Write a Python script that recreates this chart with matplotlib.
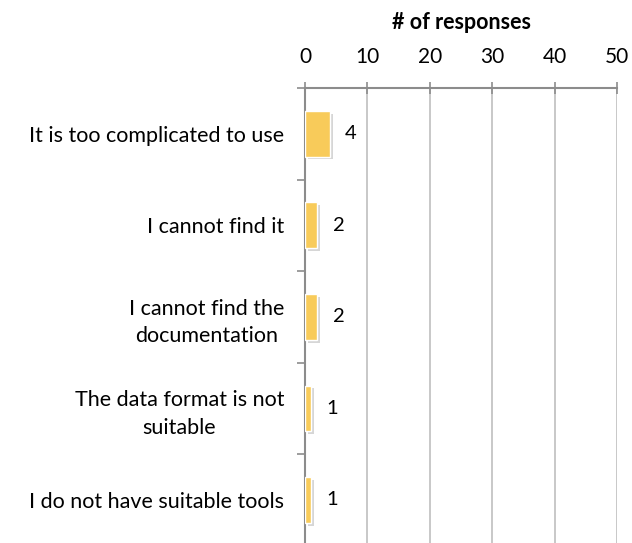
import matplotlib
matplotlib.use("Agg")
import matplotlib.pyplot as plt
import matplotlib.patheffects as pe

plt.rcParams["font.family"] = ["Lato", "DejaVu Sans"]

categories = [
    "It is too complicated to use",
    "I cannot find it",
    "I cannot find the\ndocumentation",
    "The data format is not\nsuitable",
    "I do not have suitable tools",
]
responses = [4, 2, 2, 1, 1]
x_ticks = [0, 10, 20, 30, 40, 50]

BAR_COLOR = "#F8CB5A"
GRID_COLOR = "#BFBFBF"
AXIS_COLOR = "#8C8C8C"

fig = plt.figure(figsize=(6.32, 5.43), dpi=100, facecolor="white")
ax = fig.add_axes([0.4826, -0.005, 0.4937, 0.843])

ypos = list(range(len(categories)))
bars = ax.barh(ypos, responses, height=0.5, color=BAR_COLOR,
               edgecolor="white", linewidth=1.0, zorder=3)
for b in bars:
    b.set_path_effects([pe.SimplePatchShadow(offset=(2, -2), shadow_rgbFace="#999999",
                                             alpha=0.4), pe.Normal()])

for y, v in zip(ypos, responses):
    ax.annotate(str(v), (v, y), xytext=(11, 0), textcoords="offset points",
                ha="left", va="center", fontsize=14.5, color="black")

ax.set_xlim(0, 50)
ax.set_ylim(len(categories) - 0.5, -0.5)
ax.set_xticks(x_ticks)
ax.xaxis.tick_top()
ax.xaxis.set_label_position("top")
ax.set_xlabel("# of responses", fontsize=15.5, fontweight="bold", labelpad=13)
ax.tick_params(axis="x", direction="inout", length=8, width=1.2, color=AXIS_COLOR,
               labelsize=15, pad=11)

ax.set_yticks([y - 0.5 for y in ypos] + [len(categories) - 0.5])
ax.set_yticklabels([])
ax.set_yticks(ypos, minor=True)
ax.set_yticklabels(categories, minor=True, fontsize=15.5, ha="right",
                   multialignment="center", linespacing=1.45)
ax.tick_params(axis="y", which="major", direction="out", length=6, width=1.2,
               color=AXIS_COLOR)
ax.tick_params(axis="y", which="minor", length=0, pad=15)

ax.grid(axis="x", color=GRID_COLOR, linewidth=1.2, zorder=0)
ax.set_axisbelow(True)
for side in ["right", "bottom"]:
    ax.spines[side].set_visible(False)
for side in ["left", "top"]:
    ax.spines[side].set_color(AXIS_COLOR)
    ax.spines[side].set_linewidth(1.5)

fig.savefig("out.png", dpi=100, facecolor="white")
